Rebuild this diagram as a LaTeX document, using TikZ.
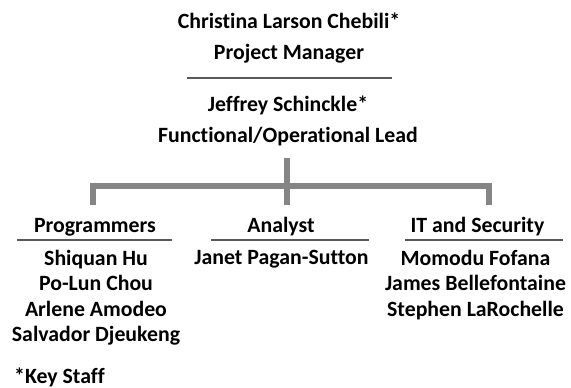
\documentclass[tikz,border=0pt]{standalone}
\usepackage{fontspec}
\setmainfont{Carlito}[Ligatures=NoCommon]
\begin{document}
\begin{tikzpicture}[x=1pt,y=-1pt,
  txt/.style={font=\fontsize{21.8}{25.4}\selectfont\bfseries, align=center, inner sep=0pt},
  toptxt/.style={font=\fontsize{21.8}{30.8}\selectfont\bfseries, align=center, inner sep=0pt},
  rule/.style={draw=black!65, line width=1.6pt},
  bar/.style={draw=black!48, line width=6pt, line join=miter},
  head/.style={txt, anchor=base, text height=27pt, text depth=8pt}
]
\useasboundingbox (0,0) rectangle (571,388);

% management block
\node[toptxt, anchor=north] (pm) at (289,13)
  {Christina Larson Chebili*\\Project Manager};
\node[toptxt, anchor=north] (lead) at (288,96)
  {Jeffrey Schinckle*\\Functional/Operational Lead};
\draw[rule] (186.5,78) coordinate (sepL) -- (391.5,78) coordinate (sepR);

% team headings, each underlined
\node[head] (prog) at (95,232) {Programmers};
\node[head] (ana)  at (281,232) {Analyst};
\node[head] (sec)  at (477.5,232) {IT and Security};
\draw[rule] (prog.south -| 17,0)  -- (prog.south -| 172,0);
\draw[rule] (ana.south -| 211,0)  -- (ana.south -| 369,0);
\draw[rule] (sec.south -| 405,0)  -- (sec.south -| 563,0);

% connectors
\coordinate (j) at (287,186);
\draw[bar] (prog.north -| 93,0) -- (93,186) -- (489,186) -- (sec.north -| 489,0);
\draw[bar] (lead.south -| j) ++(0,12) -- (j);
\draw[bar] (j) -- (ana.north -| j);

% team members
\node[txt, anchor=north] (progm) at (96,250)
  {Shiquan Hu\\Po-Lun Chou\\Arlene Amodeo\\Salvador Djeukeng};
\node[txt, anchor=north] (anam) at (281.5,250) {Janet Pagan-Sutton};
\node[txt, anchor=north] (secm) at (475.5,250)
  {Momodu Fofana\\James Bellefontaine\\Stephen LaRochelle};

\node[txt, anchor=west] (key) at (14,377) {*Key Staff};
\end{tikzpicture}
\end{document}
